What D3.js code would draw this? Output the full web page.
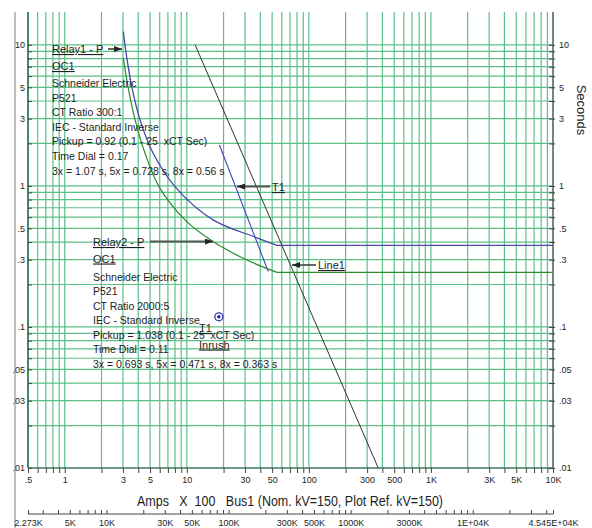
<!DOCTYPE html>
<html>
<head>
<meta charset="utf-8">
<script src="https://cdn.jsdelivr.net/npm/d3@7"></script>
<style>
  body { margin: 0; background: #fff; }
  text { font-family: "Liberation Sans", Arial, sans-serif; fill: #1e1e1e; white-space: pre; }
</style>
</head>
<body>
<script>
// curve points (Amps x 100, seconds)
const relay1Amps = [3.02, 3.18, 3.54, 4.14, 5.29, 8.0, 16.4, 36.2, 54.8, 10000];
const relay1Sec  = [12.4, 8.77, 5.06, 2.94, 1.71, 0.989, 0.574, 0.434, 0.379, 0.379];
const relay2Amps = [3.02, 3.30, 3.77, 4.54, 5.92, 9.67, 16.4, 31.1, 54.8, 10000];
const relay2Sec  = [8.05, 5.04, 2.94, 1.71, 0.989, 0.574, 0.403, 0.298, 0.244, 0.244];
const t1Amps = [18.5, 46.5];
const t1Sec  = [1.95, 0.247];
const line1Amps = [11.7, 370];
const line1Sec  = [10, 0.01];
const inrushAmps = [18.3];
const inrushSec  = [0.118];

const xTickVals   = [0.5, 1, 3, 5, 10, 30, 50, 100, 300, 500, 1000, 3000, 5000, 10000];
const xTickLabels = [".5", "1", "3", "5", "10", "30", "50", "100", "300", "500", "1K", "3K", "5K", "10K"];
const yTickVals   = [10, 5, 3, 1, 0.5, 0.3, 0.1, 0.05, 0.03, 0.01];
const yTickLabels = ["10", "5", "3", "1", ".5", ".3", ".1", ".05", ".03", ".01"];
const secTickVals   = [2.2727, 5, 10, 30, 50, 100, 300, 500, 1000, 3000, 10000, 45454.5];
const secTickLabels = ["2.273K", "5K", "10K", "30K", "50K", "100K", "300K", "500K", "1000K", "3000K", "1E+04K", "4.545E+04K"];

const relay1Text = ["Schneider Electric", "P521", "CT Ratio 300:1", "IEC - Standard Inverse",
  "Pickup = 0.92 (0.1 - 25  xCT Sec)", "Time Dial = 0.17", "3x = 1.07 s, 5x = 0.728 s, 8x = 0.56 s"];
const relay2Text = ["Schneider Electric", "P521", "CT Ratio 2000:5", "IEC - Standard Inverse",
  "Pickup = 1.038 (0.1 - 25  xCT Sec)", "Time Dial = 0.11", "3x = 0.693 s, 5x = 0.471 s, 8x = 0.363 s"];

const W = 592, H = 528;
const L = 28, R = 553, T = 12, B = 468;

const svg = d3.select("body").append("svg")
  .attr("width", W)
  .attr("height", H);

const x = d3.scaleLog().domain([0.5, 10000]).range([L, R]);
const y = d3.scaleLog().domain([0.01, 17.1]).range([B, T]);
const x2 = d3.scaleLog().domain([2.2727, 45454.5]).range([L, R]);

svg.append("defs").append("clipPath").attr("id", "plot")
  .append("rect").attr("x", L).attr("y", T).attr("width", R - L).attr("height", B - T);

svg.append("defs").append("marker")
  .attr("id", "head")
  .attr("markerUnits", "userSpaceOnUse")
  .attr("markerWidth", 8).attr("markerHeight", 6)
  .attr("refX", 8).attr("refY", 3)
  .attr("orient", "auto")
  .append("path").attr("d", "M0,0 L8,3 L0,6 Z").attr("fill", "#222");

// far left gray rule
svg.append("line")
  .attr("x1", 15).attr("x2", 15).attr("y1", T).attr("y2", H)
  .attr("stroke", "#bdbdbd").attr("stroke-width", 2);

// grid
const grid = svg.append("g").attr("stroke", "#5cbf88").attr("stroke-width", 1.2);
grid.selectAll(".gx").data(x.ticks())
  .enter().append("line")
    .attr("x1", d => x(d)).attr("x2", d => x(d))
    .attr("y1", T).attr("y2", B);
grid.selectAll(".gy").data(y.ticks().filter(d => d <= 10))
  .enter().append("line")
    .attr("x1", L).attr("x2", R)
    .attr("y1", d => y(d)).attr("y2", d => y(d));

// frame
svg.append("line").attr("x1", L).attr("x2", L).attr("y1", T).attr("y2", B)
  .attr("stroke", "#2a6e45").attr("stroke-width", 1.5);
svg.append("line").attr("x1", R).attr("x2", R).attr("y1", T).attr("y2", B)
  .attr("stroke", "#6a6a6a").attr("stroke-width", 1.5);
svg.append("line").attr("x1", L).attr("x2", R).attr("y1", B).attr("y2", B)
  .attr("stroke", "#35554a").attr("stroke-width", 1.2);

function styleAxis(g) {
  g.select(".domain").remove();
  g.selectAll(".tick line").attr("stroke", "#444");
  g.selectAll("text").attr("font-size", 9).attr("fill", "#222")
    .attr("font-family", "'Liberation Sans', Arial, sans-serif");
}

// minor ticks
svg.append("g").attr("transform", `translate(0,${B})`)
  .call(d3.axisBottom(x).tickValues(x.ticks()).tickSize(5).tickFormat(""))
  .call(styleAxis);
svg.append("g").attr("transform", `translate(${L},0)`)
  .call(d3.axisLeft(y).tickValues(y.ticks().filter(d => d <= 10)).tickSize(-4).tickFormat(""))
  .call(styleAxis);
svg.append("g").attr("transform", `translate(${R},0)`)
  .call(d3.axisRight(y).tickValues(y.ticks().filter(d => d <= 10)).tickSize(-4).tickFormat(""))
  .call(styleAxis);
svg.append("g").attr("transform", `translate(${R},0)`)
  .call(d3.axisRight(y).tickValues(y.ticks().filter(d => d <= 10)).tickSize(2).tickFormat(""))
  .call(styleAxis);

// tick labels
svg.append("g").attr("transform", `translate(0,${B})`)
  .call(d3.axisBottom(x).tickValues(xTickVals).tickSize(0).tickPadding(9)
    .tickFormat((d, i) => xTickLabels[i]))
  .call(styleAxis);
svg.append("g").attr("transform", `translate(${L},0)`)
  .call(d3.axisLeft(y).tickValues(yTickVals).tickSize(0).tickPadding(3)
    .tickFormat((d, i) => yTickLabels[i]))
  .call(styleAxis);
svg.append("g").attr("transform", `translate(${R},0)`)
  .call(d3.axisRight(y).tickValues(yTickVals).tickSize(0).tickPadding(6)
    .tickFormat((d, i) => yTickLabels[i]))
  .call(styleAxis);

// second current axis (primary amps)
const secY = 514;
svg.append("line").attr("x1", L).attr("x2", R).attr("y1", secY).attr("y2", secY)
  .attr("stroke", "#444").attr("stroke-width", 1);
svg.append("g").attr("transform", `translate(0,${secY})`)
  .call(d3.axisTop(x2).tickValues([2.2727].concat(x2.ticks(), [45454.5])).tickSize(4).tickFormat(""))
  .call(styleAxis);
svg.append("g").attr("transform", `translate(0,${secY})`)
  .call(d3.axisBottom(x2).tickValues(secTickVals).tickSize(0).tickPadding(6)
    .tickFormat((d, i) => secTickLabels[i]))
  .call(styleAxis);

// axis titles
svg.append("text")
  .attr("x", 137).attr("y", 505.5)
  .attr("font-size", 14)
  .attr("textLength", 306).attr("lengthAdjust", "spacingAndGlyphs")
  .text("Amps   X  100   Bus1 (Nom. kV=150, Plot Ref. kV=150)");
svg.append("text")
  .attr("transform", "translate(577,110) rotate(90)")
  .attr("text-anchor", "middle")
  .attr("font-size", 13)
  .text("Seconds");

// curves
const plot = svg.append("g").attr("clip-path", "url(#plot)");
const line = d3.line().x(d => x(d[0])).y(d => y(d[1]));
const smooth = d3.line().x(d => x(d[0])).y(d => y(d[1])).curve(d3.curveCatmullRom.alpha(0.5));

function relayCurve(amps, secs, color, width) {
  const pts = d3.zip(amps, secs);
  const n = pts.length;
  // inverse-time part, then the flat definite-time tail
  plot.append("path")
    .attr("d", smooth(pts.slice(0, n - 1)))
    .attr("fill", "none").attr("stroke", color).attr("stroke-width", width);
  plot.append("path")
    .attr("d", line(pts.slice(n - 2)))
    .attr("fill", "none").attr("stroke", color).attr("stroke-width", width);
}

plot.append("path")
  .attr("d", line(d3.zip(line1Amps, line1Sec)))
  .attr("fill", "none").attr("stroke", "#333").attr("stroke-width", 1);
plot.append("path")
  .attr("d", line(d3.zip(t1Amps, t1Sec)))
  .attr("fill", "none").attr("stroke", "#4343bd").attr("stroke-width", 1.1);
relayCurve(relay2Amps, relay2Sec, "#2c8a2c", 1.2);
relayCurve(relay1Amps, relay1Sec, "#4848aa", 1.3);

// inrush point
const inrush = plot.selectAll(".inrush").data(d3.zip(inrushAmps, inrushSec)).enter().append("g");
inrush.append("circle")
  .attr("cx", d => x(d[0])).attr("cy", d => y(d[1])).attr("r", 4)
  .attr("fill", "#fff").attr("stroke", "#3535b5").attr("stroke-width", 1.3);
inrush.append("circle")
  .attr("cx", d => x(d[0])).attr("cy", d => y(d[1])).attr("r", 1.7)
  .attr("fill", "#2020a0");

// labels
const ann = svg.append("g");
function label(tx, ty, str, size, underline) {
  ann.append("text")
    .attr("x", tx).attr("y", ty)
    .attr("font-size", size)
    .style("text-decoration", underline ? "underline" : "none")
    .text(str);
}
function arrow(x1, y1, x2, y2) {
  ann.append("line")
    .attr("x1", x1).attr("y1", y1).attr("x2", x2).attr("y2", y2)
    .attr("stroke", "#555").attr("stroke-width", 1.8)
    .attr("marker-end", "url(#head)");
}

label(52, 53, "Relay1 - P", 11, true);
arrow(108, 49, 122, 49);
label(52, 70, "OC1", 11, true);
relay1Text.forEach((s, i) => label(52, 87 + i * 14.6, s, 10.5, false));

label(93, 246, "Relay2 - P", 11, true);
arrow(150, 241.5, 213, 241.5);
label(93, 262.5, "OC1", 11, true);
relay2Text.forEach((s, i) => label(93, 280.5 + i * 14.5, s, 10.5, false));

label(272, 191, "T1", 11, true);
arrow(270, 186.5, 237, 186.5);
label(318, 269, "Line1", 11, true);
arrow(316, 265, 292, 265);

label(199, 332, "T1", 11, true);
label(199, 348.5, "Inrush", 11, true);
</script>
</body>
</html>
